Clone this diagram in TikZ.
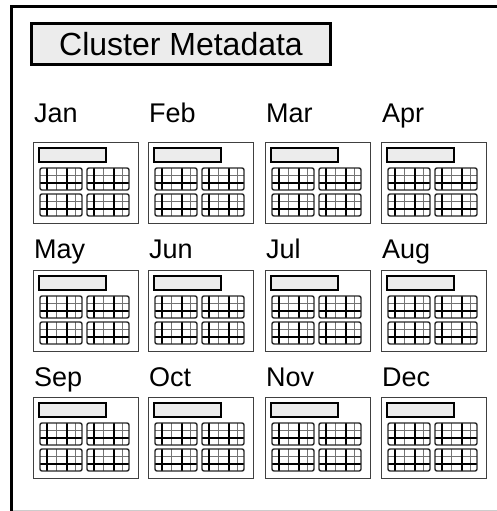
\documentclass[tikz,border=0pt]{standalone}
\usepackage{fontspec}
\setmainfont{Liberation Sans}

\tikzset{
  frameline/.style={line width=3pt},
  headerbox/.style={draw, line width=2.6pt, fill=gray!15, minimum width=299pt, minimum height=41pt, inner sep=0pt, font=\fontsize{32}{36}\selectfont},
  monthlabel/.style={anchor=base west, inner sep=0pt, font=\fontsize{27}{30}\selectfont},
  iconframe/.style={draw=black!75, line width=1pt, fill=white},
  iconbar/.style={draw=black, line width=1.4pt, fill=gray!15},
  gridblock/.style={draw=black!85, line width=1.4pt, rounded corners=2pt},
  gridline/.style={line width=1.3pt},
  gridthin/.style={line width=0.9pt, black!55},
  calicon/.pic={
    \draw[iconframe] (0,0) rectangle (105,81);
    \draw[iconbar] (6,6) rectangle (73,20);
    \foreach \gx in {7,54} {
      \foreach \gy in {26,52} {
        \foreach \k in {16,35}
          \draw[gridthin] (\gx+\k,\gy) -- ++(0,22);
        \draw[gridthin] (\gx,\gy+7) -- ++(42,0);
        \foreach \k in {7,27}
          \draw[gridline] (\gx+\k,\gy) -- ++(0,22);
        \draw[gridline] (\gx,\gy+15) -- ++(42,0);
        \draw[gridblock] (\gx,\gy) rectangle ++(42,22);
      }
    }
  }
}

\begin{document}
\begin{tikzpicture}[x=1pt, y=-1pt]
\useasboundingbox (0,0) rectangle (497,511);

% outer frame
\draw[gray!40, line width=1pt] (11,510) -- (500,510);
\draw[frameline] (11,515) -- (11,7) -- (500,7);

% header
\node[headerbox] (header) at (181,44) {Cluster Metadata};

% months
\foreach \m [count=\i from 0] in {Jan,Feb,Mar,Apr,May,Jun,Jul,Aug,Sep,Oct,Nov,Dec} {
  \pgfmathtruncatemacro{\c}{mod(\i,4)}
  \pgfmathtruncatemacro{\r}{div(\i,4)}
  \pgfmathsetmacro{\bx}{{33,148,265,381}[\c]}
  \pgfmathsetmacro{\by}{{142,270,397}[\r]}
  \pgfmathsetmacro{\ly}{{122,258,386}[\r]}
  \node[monthlabel] (lbl\m) at (\bx+1,\ly) {\m};
  \pic (ic\m) at (\bx,\by) {calicon};
}

\end{tikzpicture}
\end{document}
